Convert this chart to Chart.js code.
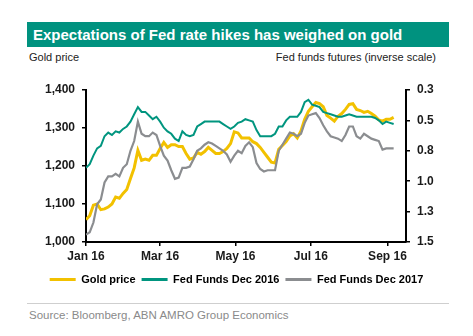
<!DOCTYPE html>
<html>
<head>
<meta charset="utf-8">
<script src="https://cdn.jsdelivr.net/npm/chart.js@4.4.0/dist/chart.umd.min.js"></script>
<style>
  body { margin: 0; background: #fff; font-family: "Liberation Sans", Arial, sans-serif; }
  #wrap { position: relative; width: 473px; height: 336px; overflow: hidden; }
  #title {
    position: absolute; left: 27px; top: 22px; width: 416px; height: 25px;
    padding-left: 6px; background: #00927f; color: #fff;
    font-weight: bold; font-size: 15px; line-height: 25px;
  }
  .axisTitle { position: absolute; top: 51px; font-size: 11px; color: #222; }
  #leftTitle { left: 29px; }
  #rightTitle { right: 37px; }
  #chartBox { position: absolute; left: 0; top: 0; }
  #rule { position: absolute; left: 27px; top: 303px; width: 422px; height: 1px; background: #cfcfcf; }
  #source { position: absolute; left: 29px; top: 309px; font-size: 11.5px; color: #8a8a8a; }
</style>
</head>
<body>
<div id="wrap">
  <div id="title">Expectations of Fed rate hikes has weighed on gold</div>
  <div class="axisTitle" id="leftTitle">Gold price</div>
  <div class="axisTitle" id="rightTitle">Fed funds futures (inverse scale)</div>
  <div id="chartBox"><canvas id="goldChart" width="473" height="295"></canvas></div>
  <div id="rule"></div>
  <div id="source">Source: Bloomberg, ABN AMRO Group Economics</div>
</div>
<script>
// days since 1 Jan 2016, every third calendar day
const days = [];
for (let d = 0; d <= 249; d += 3) days.push(d);

// gold price, USD/oz
const goldPrice = [
  1059, 1069, 1097, 1100, 1085, 1087, 1092, 1100, 1118, 1115,
  1128, 1138, 1167, 1195, 1241, 1215, 1218, 1215, 1228, 1228,
  1246, 1262, 1249, 1256, 1256, 1251, 1251, 1233, 1218, 1221,
  1236, 1231, 1238, 1249, 1241, 1233, 1233, 1238, 1246, 1259,
  1290, 1287, 1274, 1274, 1274, 1264, 1259, 1249, 1236, 1223,
  1210, 1208, 1244, 1254, 1264, 1279, 1285, 1274, 1292, 1323,
  1344, 1356, 1367, 1364, 1356, 1333, 1326, 1318, 1331, 1338,
  1349, 1362, 1364, 1349, 1346, 1341, 1344, 1338, 1331, 1321,
  1318, 1323, 1323, 1328
];

// implied rate, Fed funds futures Dec 2016
const fedDec16 = [
  0.89, 0.86, 0.79, 0.73, 0.71, 0.63, 0.60, 0.62, 0.59, 0.60,
  0.57, 0.55, 0.51, 0.45, 0.39, 0.43, 0.43, 0.46, 0.49, 0.47,
  0.51, 0.56, 0.59, 0.61, 0.65, 0.67, 0.59, 0.62, 0.63, 0.62,
  0.55, 0.53, 0.51, 0.51, 0.51, 0.51, 0.51, 0.53, 0.55, 0.57,
  0.55, 0.52, 0.51, 0.49, 0.50, 0.51, 0.58, 0.63, 0.63, 0.63,
  0.63, 0.61, 0.55, 0.55, 0.50, 0.47, 0.47, 0.47, 0.43, 0.35,
  0.33, 0.37, 0.38, 0.39, 0.43, 0.44, 0.45, 0.46, 0.47, 0.47,
  0.46, 0.45, 0.46, 0.47, 0.47, 0.47, 0.47, 0.47, 0.48, 0.50,
  0.53, 0.51, 0.52, 0.53
];

// implied rate, Fed funds futures Dec 2017
const fedDec17 = [
  1.44, 1.42, 1.34, 1.19, 1.15, 1.01, 0.96, 0.96, 0.94, 0.96,
  0.89, 0.86, 0.75, 0.67, 0.51, 0.61, 0.63, 0.63, 0.60, 0.62,
  0.71, 0.79, 0.83, 0.91, 0.98, 0.97, 0.89, 0.89, 0.88, 0.82,
  0.75, 0.73, 0.70, 0.68, 0.69, 0.71, 0.73, 0.75, 0.78, 0.84,
  0.79, 0.75, 0.77, 0.71, 0.68, 0.72, 0.85, 0.90, 0.92, 0.91,
  0.91, 0.91, 0.75, 0.70, 0.65, 0.60, 0.61, 0.63, 0.61, 0.52,
  0.46, 0.45, 0.44, 0.48, 0.54, 0.59, 0.63, 0.64, 0.65, 0.67,
  0.62, 0.55, 0.55, 0.63, 0.65, 0.61, 0.63, 0.65, 0.66, 0.67,
  0.74, 0.73, 0.73, 0.73
];

// month ticks on the time axis
const monthDays = [0, 60, 121, 182, 244];
const monthLabels = ["Jan 16", "Mar 16", "May 16", "Jul 16", "Sep 16"];

// right axis runs 0.25 .. 1.5 in steps of 0.25, printed with one decimal
const rateTicks = [0.25, 0.5, 0.75, 1.0, 1.25, 1.5];
const rateTickLabels = ["0.3", "0.5", "0.8", "1.0", "1.3", "1.5"];

const GOLD = "#f2c100";
const TEAL = "#00957f";
const GREY = "#8b8d90";

function points(values) {
  return days.map((d, i) => ({ x: d, y: values[i] }));
}

Chart.defaults.font.family = "'Liberation Sans', Arial, sans-serif";
Chart.defaults.color = "#1a1a1a";

const tickFont = { size: 12, weight: "bold" };
const axisGrid = {
  drawOnChartArea: false,
  drawTicks: true,
  tickLength: 4,
  color: "#000",
  lineWidth: 1.5
};
const axisBorder = { display: true, color: "#000", width: 2 };

new Chart(document.getElementById("goldChart"), {
  type: "line",
  data: {
    datasets: [
      {
        label: "Gold price",
        data: points(goldPrice),
        yAxisID: "y",
        borderColor: GOLD,
        backgroundColor: GOLD,
        borderWidth: 3,
        order: 3
      },
      {
        label: "Fed Funds Dec 2016",
        data: points(fedDec16),
        yAxisID: "y1",
        borderColor: TEAL,
        backgroundColor: TEAL,
        borderWidth: 2,
        order: 1
      },
      {
        label: "Fed Funds Dec 2017",
        data: points(fedDec17),
        yAxisID: "y1",
        borderColor: GREY,
        backgroundColor: GREY,
        borderWidth: 2.2,
        order: 2
      }
    ]
  },
  options: {
    responsive: false,
    animation: false,
    elements: { point: { radius: 0 }, line: { tension: 0 } },
    layout: { padding: { top: 90, left: 0, right: 0, bottom: 0 } },
    plugins: {
      tooltip: { enabled: false },
      legend: {
        position: "bottom",
        labels: {
          boxWidth: 26,
          boxHeight: 3,
          padding: 6,
          color: "#000",
          font: { size: 11, weight: "bold" },
          generateLabels(chart) {
            return chart.data.datasets.map((ds, i) => ({
              text: ds.label,
              fillStyle: ds.borderColor,
              strokeStyle: ds.borderColor,
              lineWidth: 0,
              hidden: false,
              datasetIndex: i
            }));
          }
        }
      }
    },
    scales: {
      x: {
        type: "linear",
        min: 0,
        max: 259,
        grid: axisGrid,
        border: axisBorder,
        afterBuildTicks(scale) {
          scale.ticks = monthDays.map(v => ({ value: v }));
        },
        ticks: {
          font: tickFont,
          maxRotation: 0,
          padding: 3,
          callback: (value) => monthLabels[monthDays.indexOf(value)]
        },
        afterFit(scale) { scale.height = 26; }
      },
      y: {
        position: "left",
        min: 1000,
        max: 1400,
        grid: axisGrid,
        border: axisBorder,
        ticks: {
          stepSize: 100,
          font: tickFont,
          padding: 7,
          callback: (value) => value.toLocaleString("en-US")
        },
        afterFit(scale) { scale.width = 86; }
      },
      y1: {
        position: "right",
        reverse: true,
        min: 0.25,
        max: 1.5,
        grid: axisGrid,
        border: axisBorder,
        afterBuildTicks(scale) {
          scale.ticks = rateTicks.map(v => ({ value: v }));
        },
        ticks: {
          font: tickFont,
          padding: 7,
          callback: (value) => rateTickLabels[rateTicks.indexOf(value)]
        },
        afterFit(scale) { scale.width = 67; }
      }
    }
  }
});
</script>
</body>
</html>
